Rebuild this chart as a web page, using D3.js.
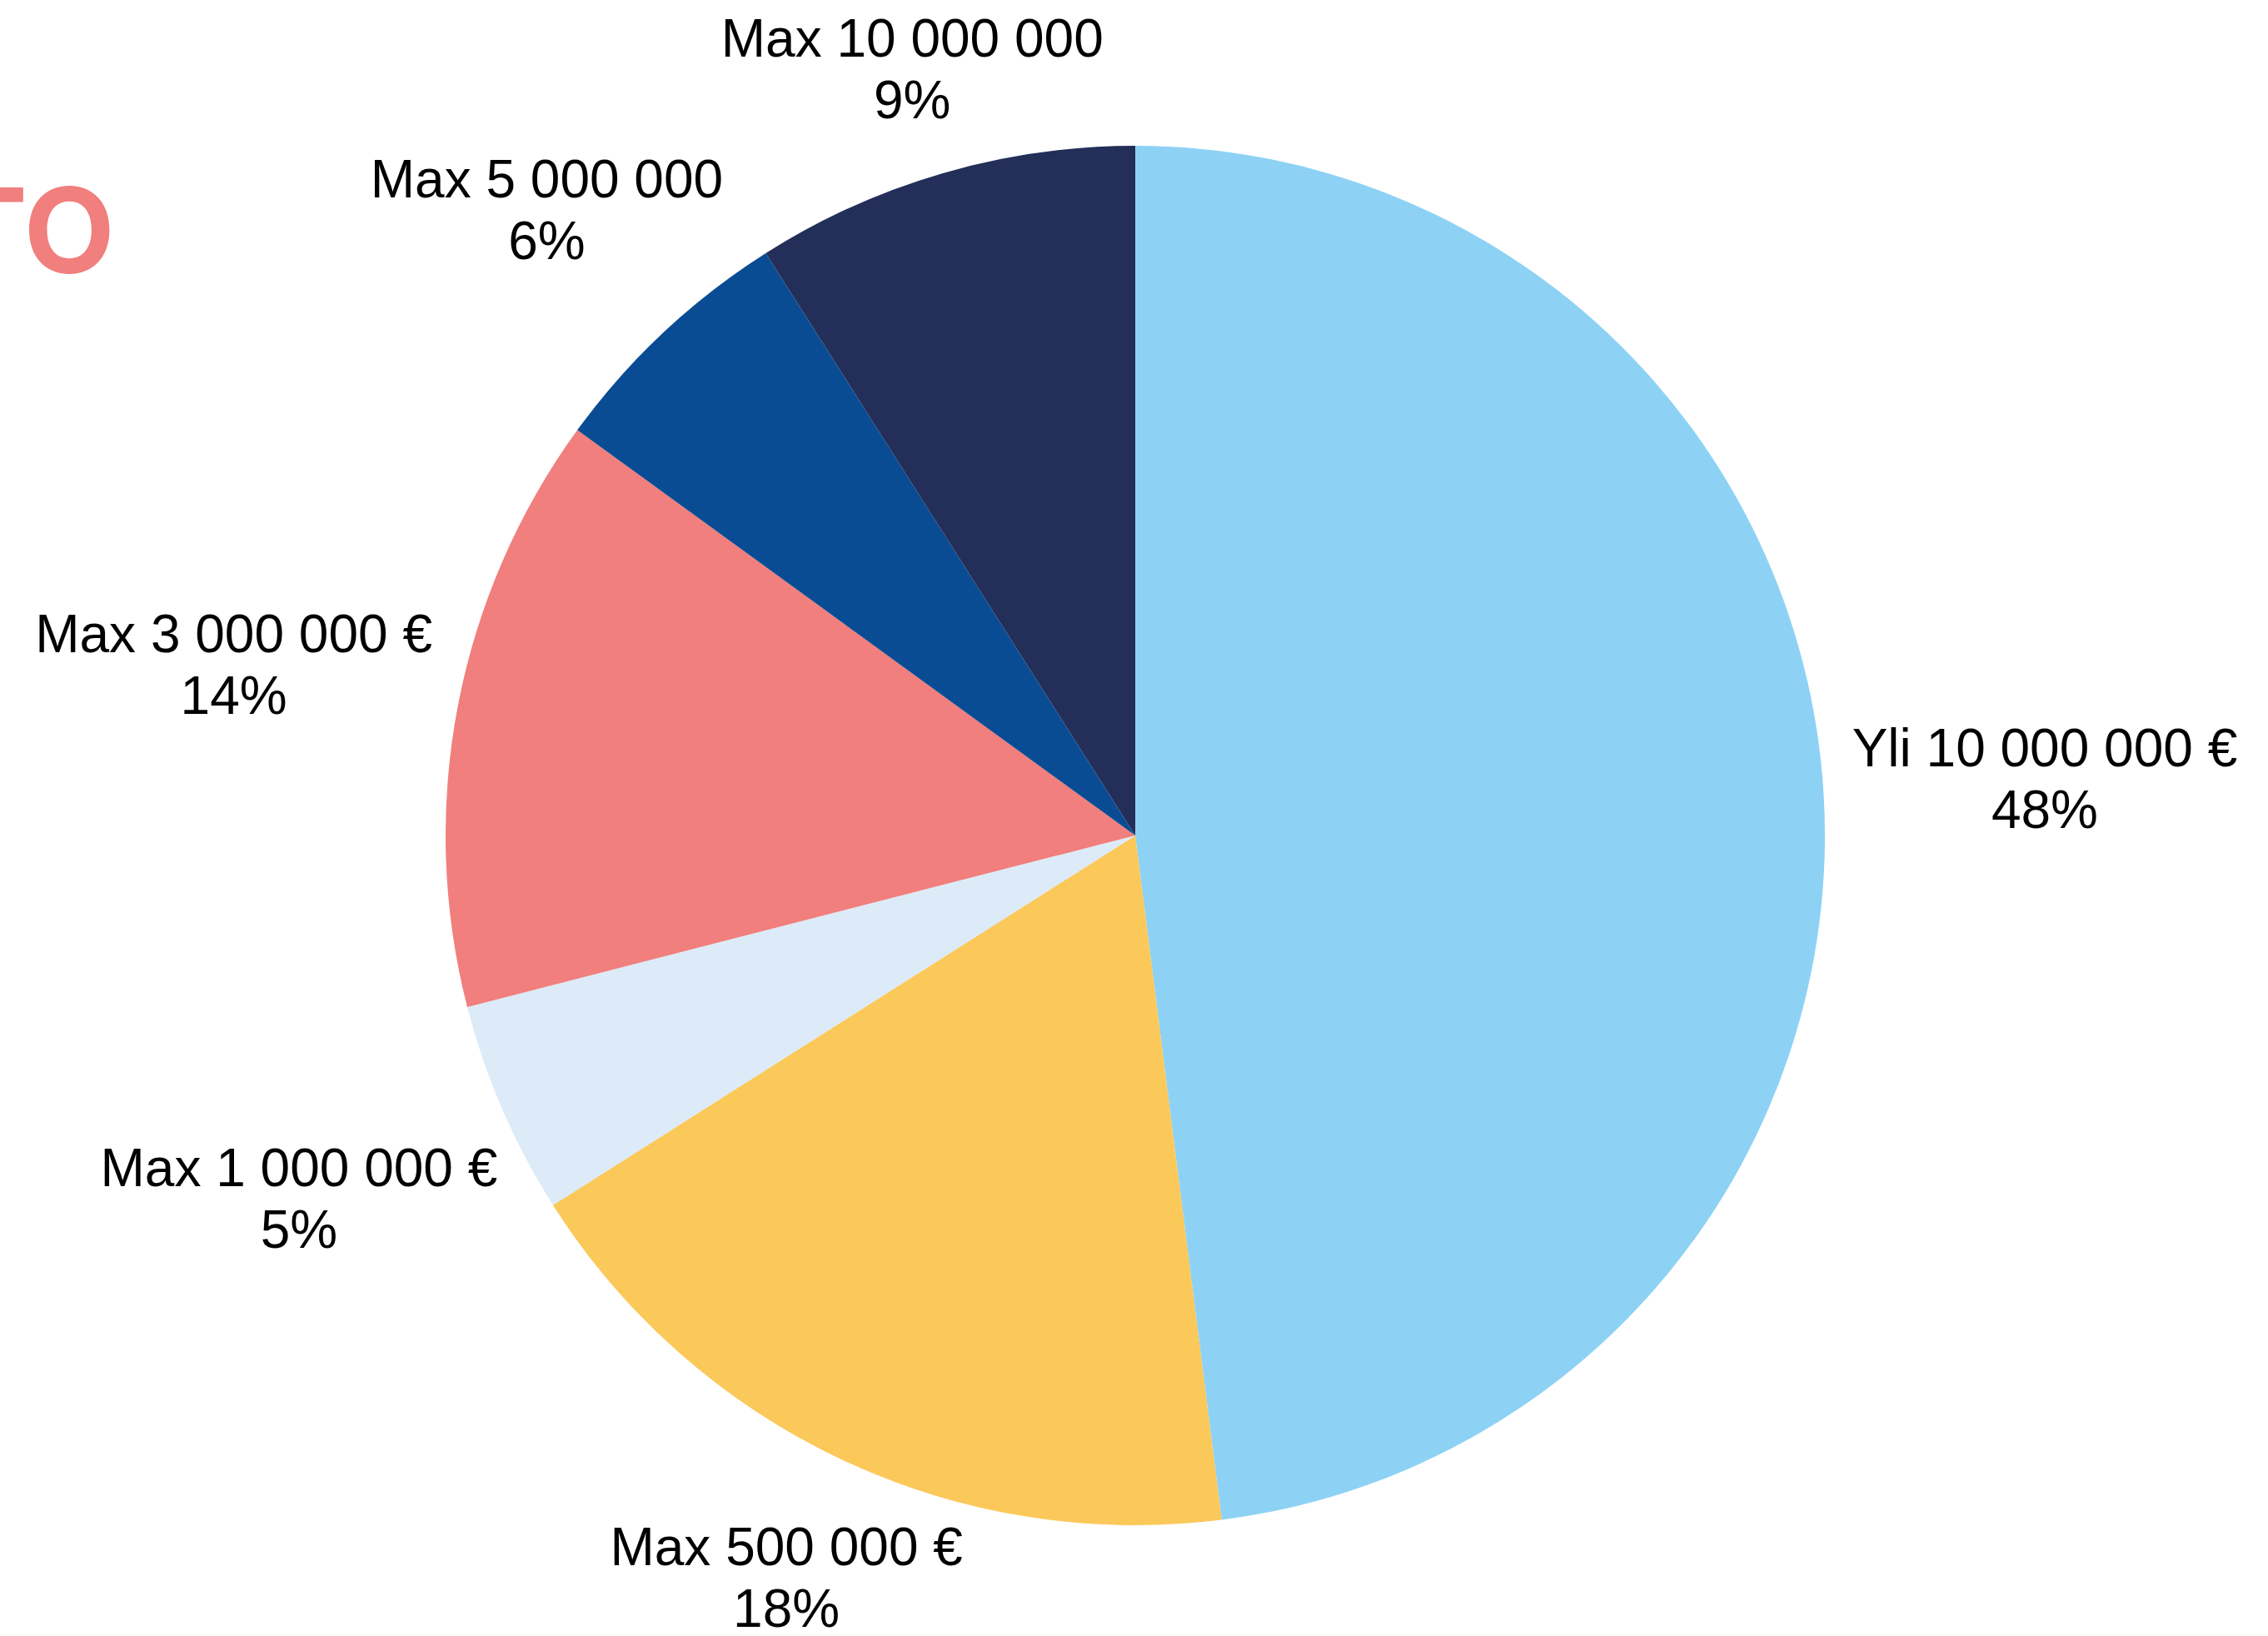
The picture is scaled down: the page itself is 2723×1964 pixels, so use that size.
<!DOCTYPE html>
<html>
<head>
<meta charset="UTF-8">
<style>
	body { margin: 0; background: #fff; }
	svg { display: block; }
	.label { font-family: "Liberation Sans", Arial, sans-serif; font-size: 64px; fill: #000; }
	.title { font-family: Inter, "Open Sans", sans-serif; font-weight: 700; font-size: 142px; fill: #f07f7d; }
</style>
</head>
<body>
<svg width="2723" height="1964"></svg>
<script src="https://d3js.org/d3.v7.min.js"></script>
<script>

var categories = ["Yli 10 000 000 €", "Max 500 000 €", "Max 1 000 000 €", "Max 3 000 000 €", "Max 5 000 000", "Max 10 000 000"];
var values = [48, 18, 5, 14, 6, 9];
var colors = ["#8dd2f4", "#fbc85a", "#ddebf8", "#f07f7d", "#0a4c94", "#232f59"];

var svg = d3.select("svg"),
	cx = 1363,
	cy = 1003,
	radius = 828,
	fontSize = 64,
	lineGap = 74,
	gap = 33,
	vPad = 36;

var data = categories.map(function(c, i) { return {name: c, value: values[i], color: colors[i]}; });

var pie = d3.pie().sort(null).value(function(d) { return d.value; });
var arc = d3.arc().innerRadius(0).outerRadius(radius);

// title, cut off at the left edge like in the source
svg.append("text")
	.attr("class", "title")
	.attr("x", 138)
	.attr("y", 328)
	.attr("text-anchor", "end")
	.text("TO");

var g = svg.append("g")
	.attr("transform", "translate(" + cx + "," + cy + ")");

var arcs = pie(data);

g.selectAll("path")
	.data(arcs)
	.enter().append("path")
	.attr("d", arc)
	.attr("fill", function(d) { return d.data.color; });

var labels = g.selectAll(".label")
	.data(arcs)
	.enter().append("text")
	.attr("class", "label")
	.attr("text-anchor", "middle");

labels.append("tspan")
	.attr("x", 0)
	.attr("y", 0)
	.text(function(d) { return d.data.name; });

labels.append("tspan")
	.attr("x", 0)
	.attr("y", lineGap)
	.text(function(d) { return d.data.value + "%"; });

// centre each label on the middle ray of its slice, far enough out to clear the edge
labels.each(function(d) {
	var w = this.getBBox().width;
	var a = (d.startAngle + d.endAngle) / 2;
	var vx = Math.sin(a), vy = -Math.cos(a);
	var dist = radius + gap + Math.abs(vx) * w / 2 + Math.abs(vy) * vPad;
	var midY = (lineGap - 0.72 * fontSize) / 2;
	d3.select(this).attr("transform", "translate(" + (vx * dist) + "," + (vy * dist - midY) + ")");
});

</script>
</body>
</html>
